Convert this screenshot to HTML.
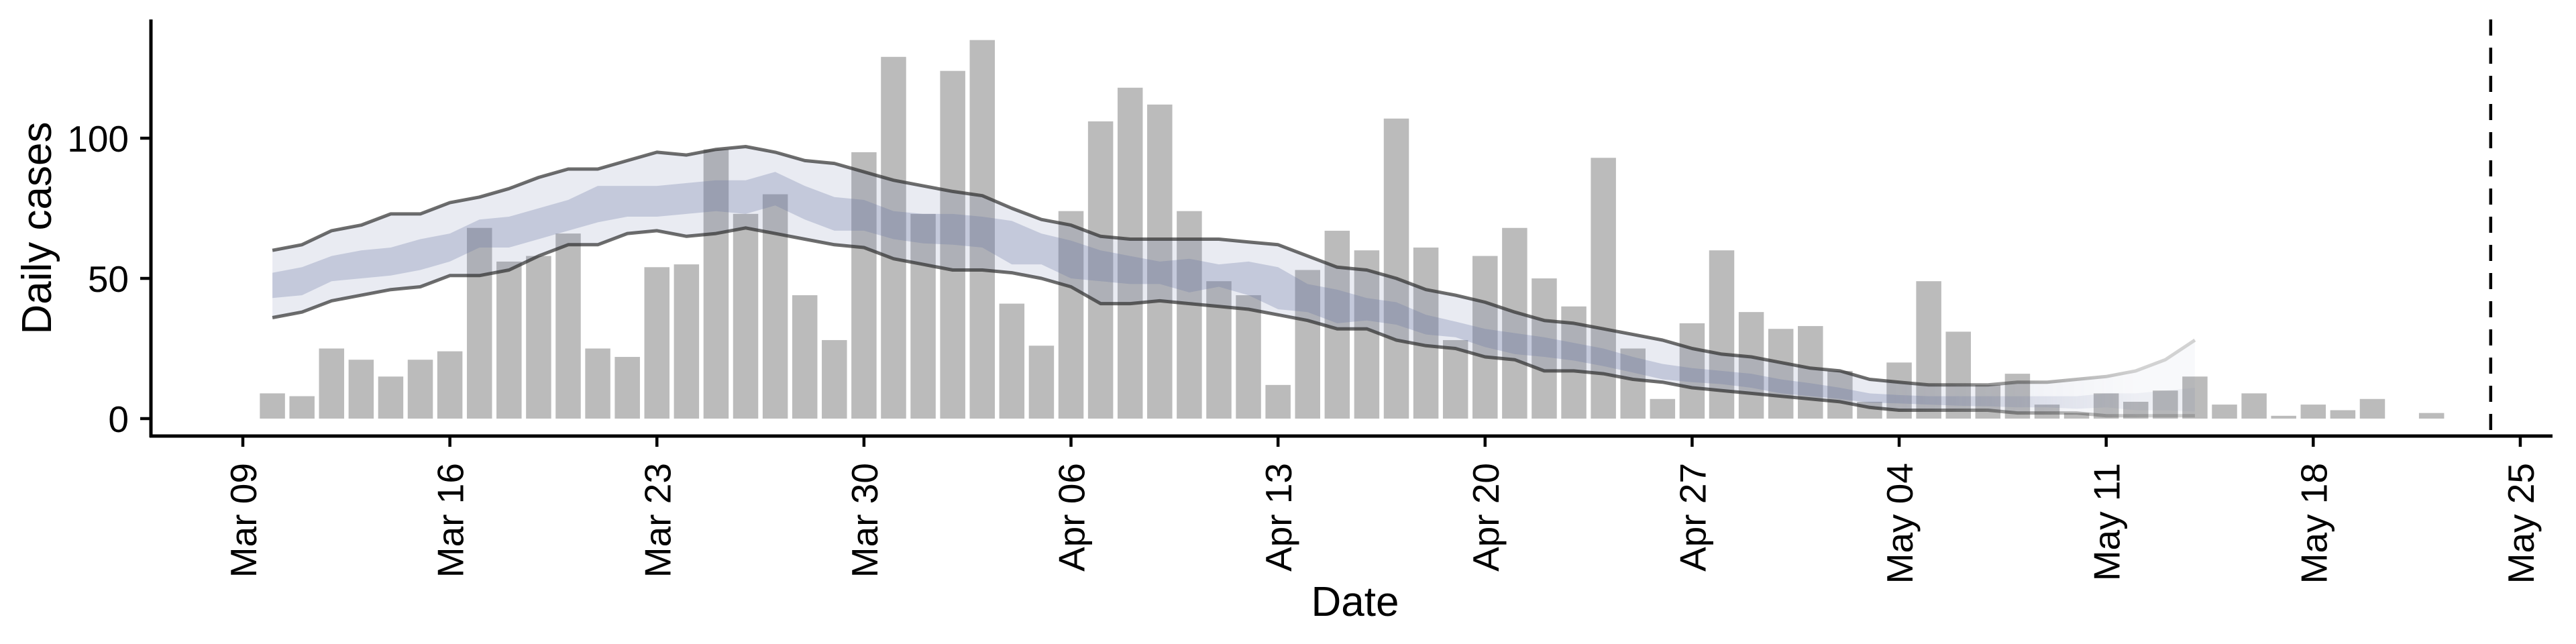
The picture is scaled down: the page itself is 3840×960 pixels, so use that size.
<!DOCTYPE html>
<html><head><meta charset="utf-8"><style>
html,body{margin:0;padding:0;background:#fff;}
svg{display:block;font-family:"Liberation Sans",sans-serif;}
</style></head><body>
<svg id="chart" width="3840" height="960" viewBox="0 0 3840 960" xmlns="http://www.w3.org/2000/svg">
<defs>
<linearGradient id="fadeGrad" gradientUnits="userSpaceOnUse" x1="2820" y1="0" x2="3190" y2="0">
<stop offset="0" stop-color="#fff" stop-opacity="1"/>
<stop offset="1" stop-color="#fff" stop-opacity="0.3"/>
</linearGradient>
<mask id="fadeMask" maskUnits="userSpaceOnUse" x="0" y="0" width="3840" height="960">
<rect x="0" y="0" width="3840" height="960" fill="url(#fadeGrad)"/>
</mask>
</defs>
<g id="bars"></g>
<g id="bands" mask="url(#fadeMask)"></g>
<g id="axes"></g>
</svg>
<script>
const barStart = "2020-03-10";
const cases = [9,8,25,21,15,21,24,68,56,58,66,25,22,54,55,96,73,80,44,28,95,129,
73,124,135,41,26,74,106,118,112,74,49,44,12,53,67,60,107,61,28,58,68,50,40,93,25,7,34,60,38,32,
33,17,6,20,49,31,12,16,5,2,9,6,10,15,5,9,1,5,3,7,0,2];
const bandStart = "2020-03-10";
const upper90 = [60,62,67,69,73,73,77,79,82,86,89,89,92,95,94,96,97,95,92,91,88,85,83,81,79.5,
75,71,69,65,64,64,64,64,63,62,58,54,53,50,46,44,41.5,38,35,34,32,30,28,25,23,22,20,
18,17,14,13,12,12,12,13,13,14,15,17,21,28];
const lower90 = [36,38,42,44,46,47,51,51,53,58,62,62,66,67,65,66,68,66,64,62,61,57,55,53,53,
52,50,47,41,41,42,41,40,39,37,35,32,32,28,26,25,22,21,17,17,16,14,13,11,10,9,8,
7,6,4,3,3,3,3,2,2,2,1,1,1,1];
const upper50 = [52,54,58,60,61,64,66,71,72,75,78,83,83,83,84,85,85,88,83,79,78,74,73,73,72,
70.5,66,63.5,60,58,56,57,55,56,54,48,46,43,41.5,37,34.6,32,30.5,29,27,25,22,19.5,18,17,16,14,
12.6,11,9,8.4,8,8,8,8,8,8,9,9,10,11];
const lower50 = [43,44,49,50,51,53,56,61,61,64,67,70,72,72,73,74,73,76,71,67,67,64,62.5,62,61,
55,55,50,49,48,48,45,47,44,39,38,34,35,33.5,30,29,25.5,23,22,20.7,18.7,16.4,14,13,12.3,11,9,
8,7,5.7,5.4,5,4.6,4.4,4,4,3.5,4,3,3,2.5];
const xTickLabels = ["Mar 09","Mar 16","Mar 23","Mar 30","Apr 06","Apr 13","Apr 20","Apr 27","May 04","May 11","May 18","May 25"];
const xTickDates = ["2020-03-09","2020-03-16","2020-03-23","2020-03-30","2020-04-06","2020-04-13","2020-04-20","2020-04-27","2020-05-04","2020-05-11","2020-05-18","2020-05-25"];
const yTicks = [0,50,100];
const forecastDate = "2020-05-24";

const NS="http://www.w3.org/2000/svg";
const X0 = 362, PXDAY = 44.09, Y0 = 624, PXUNIT = 4.18;
const origin = Date.UTC(2020,2,9);
function dayIdx(s){const p=s.split("-").map(Number);return (Date.UTC(p[0],p[1]-1,p[2])-origin)/86400000;}
function xScale(d){return X0 + d*PXDAY;}
function yScale(v){return Y0 - v*PXUNIT;}
function mk(tag,attrs,parent){const e=document.createElementNS(NS,tag);for(const k in attrs)e.setAttribute(k,attrs[k]);parent.appendChild(e);return e;}

const barsG=document.getElementById('bars');
const b0=dayIdx(barStart);
cases.forEach((c,i)=>{
  if(c<=0) return;
  const cx=xScale(b0+i), w=37.5;
  const r=mk('rect',{x:cx-w/2,y:yScale(c),width:w,height:c*PXUNIT,fill:'#bbbbbb'},barsG);
  
  
});

const bandsG=document.getElementById('bands');
const s0=dayIdx(bandStart);
function area(up,lo,fill,name){
  let d='';
  up.forEach((v,i)=>{d+=(i?'L':'M')+xScale(s0+i).toFixed(1)+','+yScale(v).toFixed(1);});
  for(let i=lo.length-1;i>=0;i--) d+='L'+xScale(s0+i).toFixed(1)+','+yScale(lo[i]).toFixed(1);
  const p=mk('path',{d:d+'Z',fill:fill},bandsG);
  
  
}
function line(arr,name){
  let d='';
  arr.forEach((v,i)=>{d+=(i?'L':'M')+xScale(s0+i).toFixed(1)+','+yScale(v).toFixed(1);});
  const p=mk('path',{d:d,fill:'none',stroke:'rgba(40,40,40,0.68)','stroke-width':5,'stroke-linejoin':'round'},bandsG);
  
  
}
area(upper90,lower90,'rgba(100,115,160,0.14)','band-90');
area(upper50,lower50,'rgba(100,115,160,0.28)','band-50');
line(upper90,'upper-90-line');
line(lower90,'lower-90-line');

const ax=document.getElementById('axes');
let e;
e=mk('line',{x1:225,y1:29,x2:225,y2:652,stroke:'#000','stroke-width':5},ax);


e=mk('line',{x1:223,y1:650,x2:3805,y2:650,stroke:'#000','stroke-width':5},ax);


yTicks.forEach(v=>{
  const y=yScale(v);
  let t=mk('line',{x1:209,y1:y,x2:225,y2:y,stroke:'#000','stroke-width':4.5},ax);
  
  
  let l=mk('text',{x:192,y:y+20,'text-anchor':'end','font-size':55,fill:'#000'},ax);
  l.textContent=v;
  
  
});
xTickDates.forEach((d,i)=>{
  const x=xScale(dayIdx(d));
  let t=mk('line',{x1:x,y1:650,x2:x,y2:666,stroke:'#000','stroke-width':4.5},ax);
  
  
  let l=mk('text',{x:0,y:0,'text-anchor':'end','font-size':55,fill:'#000',transform:'translate('+(x+20)+',690) rotate(-90)'},ax);
  l.textContent=xTickLabels[i];
  
  
});
const fx=xScale(dayIdx(forecastDate));
e=mk('line',{x1:fx,y1:29,x2:fx,y2:648,stroke:'#000','stroke-width':4.5,'stroke-dasharray':'24,18'},ax);


e=mk('text',{x:2020,y:918,'text-anchor':'middle','font-size':62,fill:'#000'},ax);
e.textContent='Date';


e=mk('text',{x:0,y:0,'text-anchor':'middle','font-size':62,fill:'#000',transform:'translate(76,340) rotate(-90)'},ax);
e.textContent='Daily cases';


</script>
</body></html>
